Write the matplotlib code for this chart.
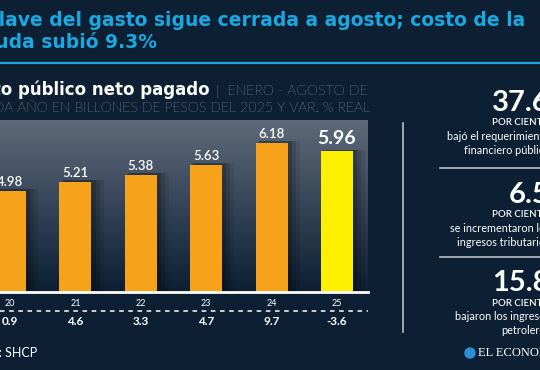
import numpy as np
import matplotlib
matplotlib.use("Agg")
import matplotlib.pyplot as plt
from matplotlib.colors import LinearSegmentedColormap
from matplotlib.lines import Line2D
from matplotlib.patches import Ellipse

# data
years = ["20", "21", "22", "23", "24", "25"]
gasto = [4.98, 5.21, 5.38, 5.63, 6.18, 5.96]
var_real = ["0.9", "4.6", "3.3", "4.7", "9.7", "-3.6"]

side_values = ["37.6", "6.5", "15.8"]
side_lines = [
    ["bajó el requerimiento", "financiero público"],
    ["se incrementaron los", "ingresos tributarios"],
    ["bajaron los ingresos", "petroleros"],
]

BG = "#0c1f33"
CYAN = "#1aa8e2"
ORANGE = "#f6a31b"
YELLOW = "#fff000"
W, H = 540, 370

plt.rcParams["font.family"] = ["Lato", "DejaVu Sans"]


def fx(x):
    return x / W


def fy(y):
    return 1 - y / H


fig = plt.figure(figsize=(5.4, 3.7), dpi=100, facecolor=BG)

# title (cropped on the left in the original)
fig.text(fx(525), fy(26), "La llave del gasto sigue cerrada a agosto; costo de la",
         ha="right", va="baseline", color=CYAN, fontsize=13.5, weight="bold",
         family="DejaVu Sans")
fig.text(fx(157), fy(48), "deuda subió 9.3%",
         ha="right", va="baseline", color=CYAN, fontsize=13.5, weight="bold",
         family="DejaVu Sans")
fig.add_artist(Line2D([0, 1], [fy(63), fy(63)], color=CYAN, lw=1.6))

# subtitle
fig.text(fx(210), fy(95), "Gasto público neto pagado", ha="right", va="baseline",
         color="white", fontsize=12, weight="bold", family="DejaVu Sans")
fig.text(fx(216), fy(95), "|  ENERO - AGOSTO DE", ha="left", va="baseline",
         color="white", fontsize=10.3, weight="light")
fig.text(fx(370), fy(112), "CADA AÑO EN BILLONES DE PESOS DEL 2025 Y VAR. % REAL",
         ha="right", va="baseline", color="white", fontsize=10.2, weight="light")

# main chart
ax = fig.add_axes([fx(-33), fy(292), (368 + 33) / W, (292 - 120) / H])
ymin, ymax = 2.47, 6.74
xmin, xmax = -0.657, 5.474
grad = np.linspace(1, 0, 256).reshape(-1, 1)
cmap = LinearSegmentedColormap.from_list("bgfade", [BG, "#5e6a7a"])
ax.imshow(grad, extent=[xmin, xmax, ymin, ymax], aspect="auto", cmap=cmap, zorder=0)

idx = np.arange(len(years))
colors = [ORANGE] * (len(years) - 1) + [YELLOW]

# soft shadow to the right of the bars
for off, wd, a in [(0.05, 0.52, 0.18), (0.09, 0.56, 0.12), (0.13, 0.6, 0.08)]:
    ax.bar(idx + off, np.array(gasto) + 0.04, width=wd, color="black", alpha=a, zorder=2)

ax.bar(idx, gasto, width=0.49, color=colors, zorder=3)

for i, v in enumerate(gasto):
    last = i == len(gasto) - 1
    ax.annotate(f"{v:.2f}", (i, v), xytext=(0, 3 if last else 2), textcoords="offset points",
                ha="center", va="bottom", color="white",
                fontsize=14 if last else 9.5, weight="bold" if last else "semibold")

ax.set_xlim(xmin, xmax)
ax.set_ylim(ymin, ymax)
ax.set_xticks(idx, years)
ax.tick_params(axis="x", length=0, pad=5, labelsize=6.5, labelcolor="white")
ax.set_yticks([])
for s in ax.spines.values():
    s.set_visible(False)
ax.axhline(ymin, color="white", lw=2, clip_on=False, zorder=4)

for i, t in enumerate(var_real):
    ax.text(i, -0.173, t, transform=ax.get_xaxis_transform(), ha="center", va="center",
            color="white", fontsize=8.5, weight="bold")

fig.add_artist(Line2D([0, fx(368)], [fy(310.7), fy(310.7)], color="white",
                      lw=1.1, ls=(0, (3, 3))))

fig.text(fx(37), fy(353), "Fuente: SHCP", ha="right", va="center",
         color="white", fontsize=9)

# side panel
fig.add_artist(Line2D([fx(403), fx(403)], [fy(123), fy(332)], color="#b8bec8", lw=1.2))
for y in (168, 257):
    fig.add_artist(Line2D([fx(440), 1], [fy(y), fy(y)], color="#b8bec8", lw=1.2))

tops = [103, 195, 283]
for val, lines, y0 in zip(side_values, side_lines, tops):
    fig.text(fx(550), fy(y0), val, ha="right", va="center", color="white",
             fontsize=21, weight="bold")
    fig.text(fx(550), fy(y0 + 20), "POR CIENTO", ha="right", va="center",
             color="white", fontsize=7, weight="semibold")
    for k, ln in enumerate(lines):
        fig.text(fx(550), fy(y0 + 34 + 13 * k), ln, ha="right", va="center",
                 color="white", fontsize=7.8)

# logo
fig.add_artist(Ellipse((fx(470), fy(353)), 10 / W, 10 / H, color="#2b8fd8"))
fig.text(fx(478), fy(353), "EL ECONOMISTA", ha="left", va="center", color="white",
         fontsize=9, family="Liberation Serif")

fig.savefig("out.png", facecolor=BG)
